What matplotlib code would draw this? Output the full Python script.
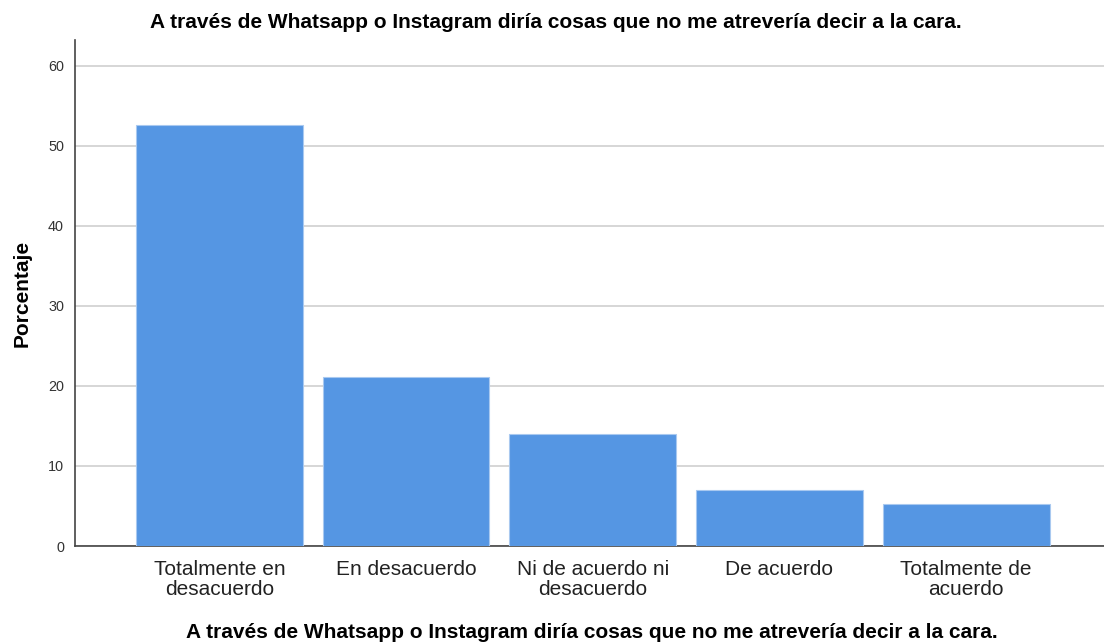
import matplotlib.pyplot as plt
import numpy as np

plt.rcParams['font.family'] = ['Liberation Sans', 'DejaVu Sans']

categorias = ['Totalmente en\ndesacuerdo', 'En desacuerdo', 'Ni de acuerdo ni\ndesacuerdo',
              'De acuerdo', 'Totalmente de\nacuerdo']
porcentaje = [52.6, 21.1, 14.0, 7.0, 5.3]
yticks = [0, 10, 20, 30, 40, 50, 60]
titulo = 'A través de Whatsapp o Instagram diría cosas que no me atrevería decir a la cara.'

fig = plt.figure(figsize=(11.04, 6.43), dpi=100)
ax = fig.add_axes([75 / 1104, 97 / 643, 1 - 75 / 1104, 506 / 643])

x = np.arange(len(categorias))
ax.bar(x, porcentaje, width=0.893, color='#5596e3', edgecolor='#a9c9f0', linewidth=0.8, zorder=3)

ax.set_xlim(-0.773, 4.738)
ax.set_ylim(0, 63.2)
ax.set_yticks(yticks)
ax.set_xticks(x, categorias)
ax.grid(True, axis='y', color='#cfcfcf', linewidth=1.2, zorder=0)

for s in ['top', 'right']:
    ax.spines[s].set_visible(False)
ax.spines['left'].set_color('#444444')
ax.spines['bottom'].set_color('#444444')
ax.spines['left'].set_linewidth(1.2)
ax.spines['bottom'].set_linewidth(1.2)

ax.tick_params(axis='y', length=0, labelsize=10.4, pad=8, colors='#333333')
ax.tick_params(axis='x', length=0, labelsize=15, pad=10, colors='#222222')
for lbl in ax.get_xticklabels():
    lbl.set_linespacing(1.05)

ax.set_ylabel('Porcentaje', fontsize=15, fontweight='bold', labelpad=12)
fig.text(592 / 1104, 1 - 632 / 643, titulo, fontsize=15, fontweight='bold', ha='center', va='center')
fig.text(556 / 1104, 1 - 23 / 643, titulo, fontsize=15, fontweight='bold', ha='center', va='center')

fig.savefig('out.png', dpi=100)
